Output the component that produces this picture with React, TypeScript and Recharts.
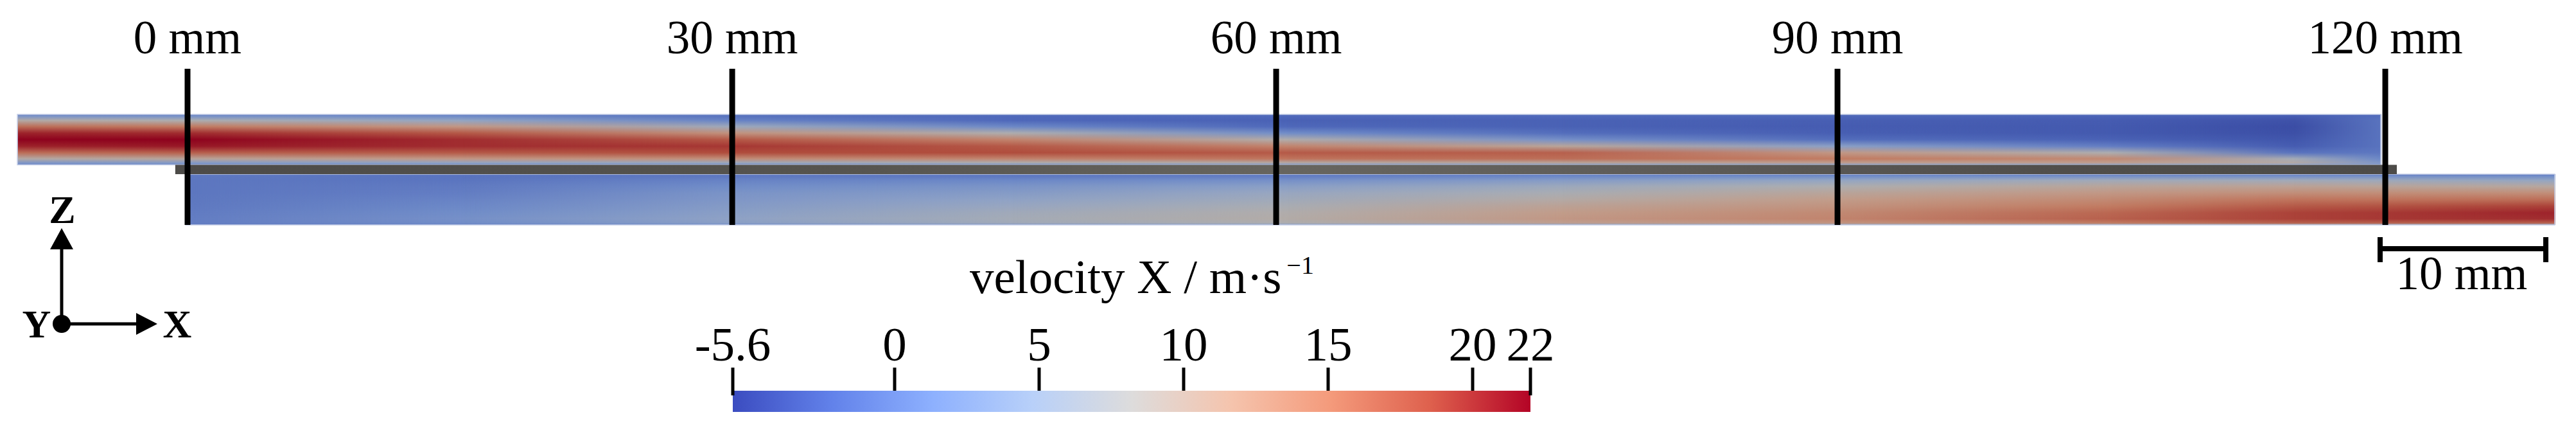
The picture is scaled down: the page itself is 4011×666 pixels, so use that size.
import React from 'react';
import { ComposedChart, XAxis, YAxis, ReferenceArea, ReferenceLine } from 'recharts';

const FONT = '"Liberation Serif", "Times New Roman", Times, serif';

// cut lines: label (mm) and where each line sits on the drawing's x scale (mm)
const cutLabels = [0, 30, 60, 90, 120];
const cutPositions = [0, 29.74, 59.44, 90.09, 120];

// normalised height across a channel, 0 = bottom wall, 1 = top wall
const profileLevels = [0, 0.04, 0.12, 0.24, 0.37, 0.5, 0.63, 0.76, 0.88, 0.96, 1];

// upper channel: stations along x (mm) and velocity X profile at each (m/s)
const upperStations = [-9.29, 0, 15, 30, 45, 60, 75, 90, 105, 115, 119.75];
const upperProfiles = [
  [0.5, 3, 9, 16, 20.5, 22.5, 20.5, 16, 9, 3, 0.5],
  [0.5, 3.5, 10, 17, 21, 22, 20, 15, 8, 2.5, 0.3],
  [0.5, 5, 12, 17.5, 20, 20, 17.5, 12, 5, 1.5, 0],
  [0.5, 6, 13, 18.5, 19.5, 17.5, 12.5, 6, 0.5, -1, -0.5],
  [1, 8, 14, 18.5, 17.5, 14, 8, 1, -2, -2, -1],
  [2, 9, 15.5, 17.5, 14, 8.5, 1.5, -2, -2.5, -2, -1],
  [3, 10, 16, 17, 10, 2, -1.5, -2.5, -2.5, -2, -1],
  [3.5, 11, 15, 12, 4, -1.5, -2.8, -3, -2.8, -2.2, -1.2],
  [4, 11, 13.5, 8, 0, -2.5, -3.2, -3.2, -3, -2.5, -1.5],
  [4, 9, 7, -1, -3, -3.5, -4, -4.2, -3.8, -3, -2],
  [2, 3, 1, -0.5, -1, -1, -1, -1, -1, -1.5, -2],
];

// lower channel (below the plate)
const lowerStations = [-0.1, 15, 30, 45, 60, 75, 90, 105, 115, 120, 129.25];
const lowerProfiles = [
  [-0.3, 0, 0, -0.2, -0.4, -0.5, -0.6, -0.6, -0.6, -0.5, -0.3],
  [0.5, 1.5, 2, 1.5, 1, 0.5, 0, -0.3, -0.8, -1, -0.5],
  [1.5, 4, 4.5, 4, 3.5, 3, 2.5, 1.5, 0.5, -0.5, 0],
  [3, 6.5, 7, 6.5, 5.5, 4.5, 3.5, 2.5, 1, -0.5, 0],
  [4, 8, 8.8, 8.5, 7.5, 6.5, 5.5, 4, 2, 0, 0],
  [5, 11, 12, 11.5, 10.5, 9, 7.5, 6, 3.5, 1, 0],
  [6, 12.5, 14, 13.5, 12.5, 11.5, 10, 8, 5, 1.5, 0],
  [7, 15, 17, 16.5, 15, 13.5, 12, 10, 6.5, 2, 0],
  [8, 17, 19, 19, 17.5, 15.5, 13, 10.5, 6.5, 2, 0],
  [7, 17, 19.5, 19.5, 18, 15.5, 13, 10, 6, 2, 0],
  [6, 17, 20, 20.5, 19, 16, 13, 9.5, 5, 1.5, 0],
];

// colour bar
const barTicks = [-5.6, 0, 5, 10, 15, 20, 22];
const coolWarm = ['#3b4cc0', '#6282ea', '#8db0fe', '#b8d0f9', '#dddcdc', '#f5c4ad', '#f49a7b', '#de604d', '#b40426'];

// channel walls (mm)
const upperZ = [3.28, 6.03];
const lowerZ = [0, 2.77];
const plateX = [-0.67, 120.63];
const cutTop = 8.52;

// page layout
const W = 4011;
const H = 666;
const PX_MM = 28.517;
const ORIGIN_X = 292; // pixel of x = 0
const ORIGIN_Z = 350; // pixel of z = 0
const AXIS_H = 100;
const X_DOMAIN = [-ORIGIN_X / PX_MM, (W - ORIGIN_X) / PX_MM];
const Z_DOMAIN = [(ORIGIN_Z - H) / PX_MM, (ORIGIN_Z - AXIS_H) / PX_MM];
const SHADE = 0.79;

const hexRgb = (h: string) => [1, 3, 5].map((k) => parseInt(h.slice(k, k + 2), 16));

const colourOf = (v: number, shade = SHADE) => {
  const lo = barTicks[0];
  const hi = barTicks[barTicks.length - 1];
  const t = Math.max(0, Math.min(1, (v - lo) / (hi - lo))) * (coolWarm.length - 1);
  const i = Math.min(Math.floor(t), coolWarm.length - 2);
  const f = t - i;
  const a = hexRgb(coolWarm[i]);
  const b = hexRgb(coolWarm[i + 1]);
  const c = a.map((av, k) => Math.round((av + (b[k] - av) * f) * shade));
  return `rgb(${c.join(',')})`;
};

const profileGradients = (name: string, profiles: number[][]) =>
  profiles.map((p, i) => (
    <linearGradient key={`${name}-${i}`} id={`${name}-${i}`} x1="0" y1="1" x2="0" y2="0">
      {p.map((v, k) => (
        <stop key={k} offset={profileLevels[k]} stopColor={colourOf(v)} />
      ))}
    </linearGradient>
  ));

const fieldRect = (gradId: string, fade: boolean) => (p: any) => (
  <rect
    x={p.x}
    y={p.y}
    width={p.width + 1}
    height={p.height}
    fill={`url(#${gradId})`}
    mask={fade ? 'url(#fade-in)' : undefined}
  />
);

// each slab: profile i underneath, profile i+1 faded in from left to right
const fieldAreas = (name: string, stations: number[], z: number[]) =>
  stations.slice(0, -1).flatMap((x, i) => [
    <ReferenceArea key={`${name}-b${i}`} x1={x} x2={stations[i + 1]} y1={z[0]} y2={z[1]}
      shape={fieldRect(`${name}-${i}`, false)} />,
    <ReferenceArea key={`${name}-f${i}`} x1={x} x2={stations[i + 1]} y1={z[0]} y2={z[1]}
      shape={fieldRect(`${name}-${i + 1}`, true)} />,
  ]);

const CutLabel = (p: any) => (
  <text x={p.x} y={83} textAnchor="middle" fontFamily={FONT} fontSize={73} fill="#000">
    {`${cutLabels[p.index]} mm`}
  </text>
);

const FlowField = () => (
  <ComposedChart width={W} height={H} margin={{ top: 0, right: 0, bottom: 0, left: 0 }}>
    <defs>
      <linearGradient id="fade-ramp" x1="0" y1="0" x2="1" y2="0">
        <stop offset="0" stopColor="#fff" stopOpacity={0} />
        <stop offset="1" stopColor="#fff" stopOpacity={1} />
      </linearGradient>
      <mask id="fade-in" maskContentUnits="objectBoundingBox">
        <rect x="0" y="0" width="1" height="1" fill="url(#fade-ramp)" />
      </mask>
      <linearGradient id="plate" x1="0" y1="0" x2="1" y2="0">
        <stop offset="0" stopColor="#4d4b48" />
        <stop offset="0.3" stopColor="#56544f" />
        <stop offset="0.5" stopColor="#67655f" />
        <stop offset="0.65" stopColor="#5f5d5a" />
        <stop offset="0.85" stopColor="#504e4b" />
        <stop offset="1" stopColor="#4d4b48" />
      </linearGradient>
      {profileGradients('up', upperProfiles)}
      {profileGradients('lo', lowerProfiles)}
    </defs>
    <XAxis
      type="number"
      orientation="top"
      dataKey="x"
      scale="linear"
      domain={X_DOMAIN}
      allowDataOverflow
      height={AXIS_H}
      ticks={cutPositions}
      interval={0}
      axisLine={false}
      tickLine={false}
      tick={CutLabel}
    />
    <YAxis type="number" scale="linear" domain={Z_DOMAIN} allowDataOverflow hide />
    {fieldAreas('up', upperStations, upperZ)}
    {fieldAreas('lo', lowerStations, lowerZ)}
    <ReferenceArea x1={upperStations[0]} x2={upperStations[upperStations.length - 1]} y1={upperZ[0]} y2={upperZ[1]}
      fill="none" stroke="#c3cde6" strokeWidth={1.5} />
    <ReferenceArea x1={lowerStations[0]} x2={lowerStations[lowerStations.length - 1]} y1={lowerZ[0]} y2={lowerZ[1]}
      fill="none" stroke="#c3cde6" strokeWidth={1.5} />
    <ReferenceArea x1={plateX[0]} x2={plateX[1]} y1={lowerZ[1]} y2={upperZ[0]} fill="url(#plate)" fillOpacity={1} />
    {cutPositions.map((c) => (
      <ReferenceLine key={c} segment={[{ x: c, y: 0 }, { x: c, y: cutTop }]} stroke="#000" strokeWidth={9} />
    ))}
  </ComposedChart>
);

const barEnds = [barTicks[0], barTicks[barTicks.length - 1]];

const ColourBar = () => (
  <ComposedChart width={1442} height={280} margin={{ top: 0, right: 100, bottom: 19, left: 100 }}>
    <defs>
      <linearGradient id="cbar" x1="0" y1="0" x2="1" y2="0">
        {coolWarm.map((c, i) => (
          <stop key={c} offset={i / (coolWarm.length - 1)} stopColor={c} />
        ))}
      </linearGradient>
    </defs>
    <XAxis
      type="number"
      orientation="top"
      dataKey="v"
      scale="linear"
      domain={barEnds}
      allowDataOverflow
      height={228}
      ticks={barTicks}
      interval={0}
      axisLine={false}
      tickSize={36}
      tickMargin={11}
      tickLine={{ stroke: '#000', strokeWidth: 5 }}
      tick={{ fontSize: 75, fill: '#000', fontFamily: FONT }}
    />
    <YAxis type="number" domain={[0, 1]} allowDataOverflow hide />
    <ReferenceArea x1={barEnds[0]} x2={barEnds[1]} y1={0} y2={1} fill="url(#cbar)" fillOpacity={1} />
    {barEnds.map((v) => (
      <ReferenceLine key={v} segment={[{ x: v, y: 0.78 }, { x: v, y: 1 }]} stroke="#000" strokeWidth={5} />
    ))}
  </ComposedChart>
);

// axis triad, scale bar and colour-bar title
const Annotations = () => (
  <svg width={W} height={H} style={{ position: 'absolute', left: 0, top: 0, pointerEvents: 'none' }}>
    <g fill="#000" stroke="#000">
      <line x1={96} y1={385} x2={96} y2={504} strokeWidth={5} />
      <polygon points="96,355 78,388 114,388" stroke="none" />
      <circle cx={96} cy={504} r={14} stroke="none" />
      <line x1={96} y1={504} x2={215} y2={504} strokeWidth={5} />
      <polygon points="245,504 212,487 212,521" stroke="none" />
      <line x1={3706} y1={369} x2={3706} y2={408} strokeWidth={8} />
      <line x1={3964} y1={369} x2={3964} y2={408} strokeWidth={8} />
      <line x1={3706} y1={387} x2={3964} y2={387} strokeWidth={8} />
    </g>
    <g fontFamily={FONT} fill="#000">
      <text x={97} y={347} textAnchor="middle" fontSize={62} fontWeight="bold">Z</text>
      <text x={57} y={525} textAnchor="middle" fontSize={62} fontWeight="bold">Y</text>
      <text x={276} y={525} textAnchor="middle" fontSize={62} fontWeight="bold">X</text>
      <text x={3833} y={450} textAnchor="middle" fontSize={73}>10 mm</text>
      <text x={1510} y={456} fontSize={75}>
        velocity X / m·s
        <tspan dx={8} dy={-30} fontSize={40}>−1</tspan>
      </text>
    </g>
  </svg>
);

export default function App() {
  return (
    <div style={{ position: 'relative', width: W, height: H, background: '#fff', overflow: 'hidden' }}>
      <style>{'body{margin:0}'}</style>
      <div style={{ position: 'absolute', left: 0, top: 0 }}>
        <FlowField />
      </div>
      <div style={{ position: 'absolute', left: 1041, top: 380 }}>
        <ColourBar />
      </div>
      <Annotations />
    </div>
  );
}
